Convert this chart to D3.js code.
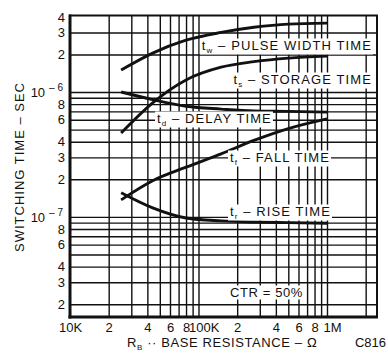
<!DOCTYPE html>
<html><head><meta charset="utf-8">
<script src="https://cdn.jsdelivr.net/npm/d3@7"></script>
<style>
html,body{margin:0;padding:0;background:#fff;}
svg{display:block;background:#fff;}
text{font-family:"Liberation Sans",Arial,Helvetica,sans-serif;fill:#111;}
</style></head><body>
<svg id="c" width="388" height="353"></svg>
<script>
// ---- data ----
const rb = [25e3, 44e3, 80e3, 150e3, 270e3, 500e3, 1e6];           // base resistance, ohms
const tPulseWidth = [1.5e-6, 2.05e-6, 2.6e-6, 3.0e-6, 3.3e-6, 3.5e-6, 3.56e-6];
const tStorage    = [4.7e-7, 8.2e-7, 1.25e-6, 1.58e-6, 1.75e-6, 1.87e-6, 1.94e-6];
const tDelay      = [1.0e-6, 8.7e-7, 7.7e-7, 7.3e-7, 7.05e-7, 7.0e-7, 6.9e-7];
const tFall       = [1.37e-7, 1.95e-7, 2.5e-7, 3.2e-7, 4.1e-7, 5.1e-7, 6.1e-7];
const tRise       = [1.56e-7, 1.18e-7, 9.8e-8, 9.3e-8, 9.1e-8, 9.0e-8, 8.9e-8];

const xTickValues = [1e4, 2e4, 4e4, 6e4, 8e4, 1e5, 2e5, 4e5, 6e5, 8e5, 1e6];
const xTickLabels = ["10K", "2", "4", "6", "8", "100K", "2", "4", "6", "8", "1M"];
const yTickValues = [4e-6, 3e-6, 2e-6, 1e-6, 8e-7, 6e-7, 4e-7, 3e-7, 2e-7, 1e-7, 8e-8, 6e-8, 4e-8, 3e-8, 2e-8];
const yTickLabels = ["4", "3", "2", "10^-6", "8", "6", "4", "3", "2", "10^-7", "8", "6", "4", "3", "2"];
const gridX = [2e4,3e4,4e4,5e4,6e4,7e4,8e4,9e4,1e5,2e5,3e5,4e5,5e5,6e5,7e5,8e5,9e5,1e6,2e6];
const gridY = [2e-8,3e-8,4e-8,5e-8,6e-8,7e-8,8e-8,9e-8,1e-7,2e-7,3e-7,4e-7,5e-7,6e-7,7e-7,8e-7,9e-7,1e-6,2e-6,3e-6];

const seriesNames = ["w", "s", "d", "f", "r"];
const seriesTitles = ["PULSE WIDTH TIME", "STORAGE TIME", "DELAY TIME", "FALL TIME", "RISE TIME"];
const note = "CTR = 50%";

// ---- layout ----
const L = 70, R = 377, T = 15.5, B = 317;
const svg = d3.select("#c");
const x = d3.scaleLog().domain([1e4, 2.45e6]).range([L, R]);
const y = d3.scaleLog().domain([1.58e-8, 4.1e-6]).range([B, T]);

// grid
const gx = svg.append("g").attr("transform", `translate(0,${B})`)
  .call(d3.axisBottom(x).tickValues(gridX).tickSize(-(B - T)).tickFormat(""));
gx.select(".domain").remove();
gx.selectAll("line").attr("stroke", "#111").attr("stroke-width", 1.4);
const gy = svg.append("g").attr("transform", `translate(${L},0)`)
  .call(d3.axisLeft(y).tickValues(gridY).tickSize(-(R - L)).tickFormat(""));
gy.select(".domain").remove();
gy.selectAll("line").attr("stroke", "#111").attr("stroke-width", 1.4);

// frame
svg.append("rect").attr("x", L).attr("y", T).attr("width", R - L).attr("height", B - T)
  .attr("fill", "none").attr("stroke", "#111").attr("stroke-width", 2);
svg.append("line").attr("x1", L).attr("x2", L).attr("y1", T - 1).attr("y2", B + 1.5)
  .attr("stroke", "#111").attr("stroke-width", 3);
svg.append("line").attr("x1", L - 1.5).attr("x2", R + 1).attr("y1", B).attr("y2", B)
  .attr("stroke", "#111").attr("stroke-width", 3);

// x tick labels
const ax = svg.append("g").attr("transform", `translate(0,${B})`)
  .call(d3.axisBottom(x).tickValues(xTickValues).tickSize(0).tickPadding(6)
    .tickFormat((d, i) => xTickLabels[i]));
ax.select(".domain").remove();
ax.selectAll("text").attr("font-size", 13).attr("fill", "#111")
  .attr("font-family", '"Liberation Sans",Arial,sans-serif')
  .each(function (d, i) {
    const s = xTickLabels[i];
    if (s === "100K") d3.select(this).attr("text-anchor", "start").attr("dx", -10);
    if (s === "1M") d3.select(this).attr("text-anchor", "start").attr("dx", -4);
  });

// y tick labels
const ay = svg.append("g").attr("transform", `translate(${L},0)`)
  .call(d3.axisLeft(y).tickValues(yTickValues).tickSize(0).tickPadding(5)
    .tickFormat((d, i) => yTickLabels[i]));
ay.select(".domain").remove();
ay.selectAll("text").attr("font-size", 13).attr("fill", "#111")
  .attr("font-family", '"Liberation Sans",Arial,sans-serif')
  .each(function (d, i) {
    const s = yTickLabels[i];
    if (s.includes("^")) {
      const [base, exp] = s.split("^");
      const t = d3.select(this).text(null).attr("dx", -2);
      t.append("tspan").text(base);
      t.append("tspan").attr("font-size", 10).attr("dy", -6).attr("dx", 4).text(exp.replace("-", "\u2013 "));
    }
  });

// curves
const line = d3.line().x(d => x(d[0])).y(d => y(d[1])).curve(d3.curveMonotoneX);
[tPulseWidth, tStorage, tDelay, tFall, tRise].forEach(vals => {
  svg.append("path").datum(rb.map((r, i) => [r, vals[i]])).attr("d", line)
    .attr("fill", "none").attr("stroke", "#111").attr("stroke-width", 2.9)
    .attr("stroke-linecap", "butt");
});

// series labels with white backgrounds
const labelPos = [
  {ax: 372, ay: 45, anchor: "end"},
  {ax: 372, ay: 79, anchor: "end"},
  {ax: 157, ay: 118, anchor: "start"},
  {ax: 230, ay: 157, anchor: "start"},
  {ax: 230, ay: 211, anchor: "start"}
];
const lg = svg.append("g");
seriesNames.forEach((sub, i) => {
  const p = labelPos[i];
  const g = lg.append("g");
  const bg = g.append("rect").attr("fill", "#fff");
  const t = g.append("text").attr("x", p.ax).attr("y", p.ay + 4.5).attr("text-anchor", p.anchor)
    .attr("font-size", 13).attr("letter-spacing", 1.1);
  t.append("tspan").text("t");
  t.append("tspan").attr("font-size", 8).attr("dy", 3).text(sub);
  t.append("tspan").attr("dy", -3).text("\u00a0\u2013 " + seriesTitles[i]);
  const bb = t.node().getBBox();
  bg.attr("x", bb.x - 2).attr("y", bb.y + 1).attr("width", bb.width + 3).attr("height", bb.height - 1);
});
{
  const g = lg.append("g");
  const bg = g.append("rect").attr("fill", "#fff");
  const t = g.append("text").attr("x", 230).attr("y", 292 + 4.5).attr("font-size", 13)
    .attr("letter-spacing", 0.6).text(note);
  const bb = t.node().getBBox();
  bg.attr("x", bb.x - 2).attr("y", bb.y + 1).attr("width", bb.width + 4).attr("height", bb.height - 1);
}

// axis titles
svg.append("text").attr("transform", "translate(24,167) rotate(-90)").attr("text-anchor", "middle")
  .attr("font-size", 13).attr("letter-spacing", 1).text("SWITCHING TIME \u2013 SEC");
const xt = svg.append("text").attr("x", 127).attr("y", 347).attr("font-size", 13).attr("letter-spacing", 0.6);
xt.append("tspan").text("R");
xt.append("tspan").attr("font-size", 8).attr("dy", 3).text("B");
xt.append("tspan").attr("dy", -3).text(" \u00b7\u00b7 BASE RESISTANCE \u2013 \u03a9");
svg.append("text").attr("x", 386).attr("y", 347).attr("text-anchor", "end").attr("font-size", 13).text("C816");
</script>
</body></html>
